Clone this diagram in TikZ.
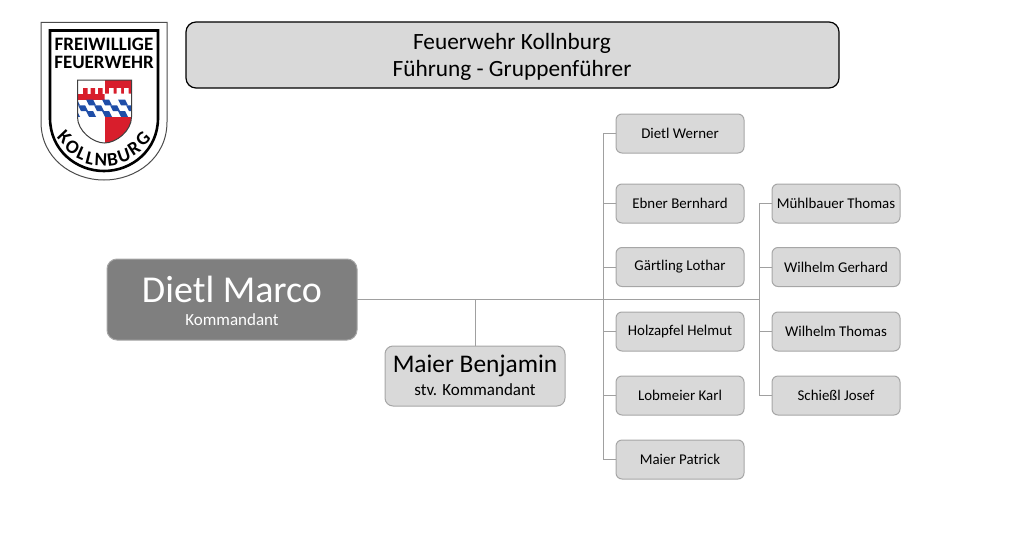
\documentclass[tikz,border=0pt]{standalone}
\usepackage{fontspec}
\setmainfont{Carlito}
\definecolor{boxfill}{HTML}{D9D9D9}
\definecolor{boxline}{HTML}{A6A6A6}
\definecolor{darkfill}{HTML}{7F7F7F}
\definecolor{linkline}{HTML}{A0A0A0}
\definecolor{crestred}{HTML}{D81E2C}
\definecolor{crestblue}{HTML}{1F4EA8}
\tikzset{
  every node/.style={inner sep=0pt,outer sep=0pt},
  basebox/.style={rounded corners=6pt,align=center,anchor=north west},
  person/.style={basebox,draw=boxline,fill=boxfill,line width=1pt,minimum width=128pt,minimum height=39pt,font=\fontsize{14.9}{17}\selectfont},
  link/.style={draw=linkline,line width=1pt},
  crestletter/.style={font=\fontsize{19}{19}\selectfont\bfseries,text=black},
  cresttext/.style={font=\fontsize{19}{18}\selectfont\bfseries,text=black},
}
\begin{document}
\begin{tikzpicture}[x=1pt,y=-1pt]
\useasboundingbox (0,0) rectangle (1024,551);
% title
\node[basebox,draw=black,fill=boxfill,line width=1.2pt,minimum width=653pt,minimum height=66pt,rounded corners=10pt] (title) at (186,22) {};
\node[font=\fontsize{23.3}{27}\selectfont,align=center] (titletext) at (512,57) {Feuerwehr Kollnburg\\[0pt]Führung - Gruppenführer};
% persons
\node[basebox,draw=boxline,fill=darkfill,line width=1pt,minimum width=250pt,minimum height=81pt,rounded corners=10pt] (marco) at (107,259) {};
\node[text=white,font=\fontsize{38}{40}\selectfont] (marconame) at (232,289) {Dietl Marco};
\node[text=white,font=\fontsize{17}{19}\selectfont] (marcorole) at (232,320) {Kommandant};
\node[basebox,draw=boxline,fill=boxfill,line width=1pt,minimum width=180pt,minimum height=60pt,rounded corners=8pt] (benjamin) at (385,346) {};
\node[font=\fontsize{25.4}{28}\selectfont] (benjaminname) at (475,366) {Maier Benjamin};
\node[font=\fontsize{17}{19}\selectfont] (benjaminrole) at (475,390) {stv. Kommandant};
\node[person] (werner) at (616,114) {Dietl Werner};
\node[person] (bernhard) at (616,184) {Ebner Bernhard};
\node[person] (lothar) at (616,247.5) {Gärtling Lothar};
\node[person] (helmut) at (616,312) {Holzapfel Helmut};
\node[person] (karl) at (616,376) {Lobmeier Karl};
\node[person] (patrick) at (616,440) {Maier Patrick};
\node[person] (mthomas) at (772,184) {Mühlbauer Thomas};
\node[person] (gerhard) at (772,247.5) {Wilhelm Gerhard};
\node[person] (wthomas) at (772,312) {Wilhelm Thomas};
\node[person] (josef) at (772,376) {Schießl Josef};
% connectors
\coordinate (busL) at (603,299);
\coordinate (busR) at (759,299);
\path[link] (marco.east |- busL) -- (busR);
\path[link] (benjamin.north) -- (benjamin.north |- busL);
\path[link] (werner.west) -| (busL) |- (patrick.west);
\foreach \n in {bernhard,lothar,helmut,karl} \path[link] (\n.west) -- (busL |- \n.west);
\path[link] (mthomas.west) -| (busR) |- (josef.west);
\foreach \n in {gerhard,wthomas} \path[link] (\n.west) -- (busR |- \n.west);
% crest
\path[draw=black!70,fill=white,line width=1pt] (41,22.5) -- (167,22.5) -- (167,122) .. controls (167,158) and (136,180) .. (104,180) .. controls (72,180) and (41,158) .. (41,122) -- cycle;
\path[draw=black,fill=white,line width=2.6pt] (50,30.5) -- (158,30.5) -- (158,118) .. controls (158,150) and (132,171) .. (104,171) .. controls (76,171) and (50,150) .. (50,118) -- cycle;
\node[cresttext,align=center] (crestname) at (104,53) {FREIWILLIGE\\FEUERWEHR};
% shield
\begin{scope}
\clip (77.5,80) -- (131.5,80) -- (131.5,117) .. controls (131.5,131) and (116,143) .. (104.5,143) .. controls (93,143) and (77.5,131) .. (77.5,117) -- cycle;
\fill[white] (77,80) rectangle (132,143);
\fill[crestred] (104.5,80) rectangle (132,93.5);
\fill[crestred] (77,93.5) rectangle (104.5,99.5);
\fill[crestred] (83,88) rectangle (87.5,94) (90.5,88) rectangle (95,94) (98,88) rectangle (102.5,94);
\fill[white] (104.5,93.5) rectangle (132,99.5) (109,88) rectangle (113.5,94) (116.5,88) rectangle (121,94) (124,88) rectangle (128.5,94);
\fill[crestred] (104.5,116.7) rectangle (132,143);
\foreach \r/\s in {0/86,1/78,2/86}
  \foreach \c in {-1,...,3}
    \fill[crestblue] ({\s+\c*16},{99.5+\r*5.75}) -- ++(7,0) -- ++(3,5.75) -- ++(-7,0) -- cycle;
\end{scope}
\path[draw=black!75,line width=1pt] (77.5,80) -- (131.5,80) -- (131.5,117) .. controls (131.5,131) and (116,143) .. (104.5,143) .. controls (93,143) and (77.5,131) .. (77.5,117) -- cycle;
\foreach \x/\y/\a/\l in {64.5/137/-46/K,72.5/147/-36/O,81.5/153.5/-24/L,90/158/-14/L,101/160/-3/N,112.5/159.5/8/B,124/155.5/19/U,134/148.5/33/R,143/139/46/G}
  \node[crestletter,rotate=\a] at (\x,\y) {\l};
\end{tikzpicture}
\end{document}
